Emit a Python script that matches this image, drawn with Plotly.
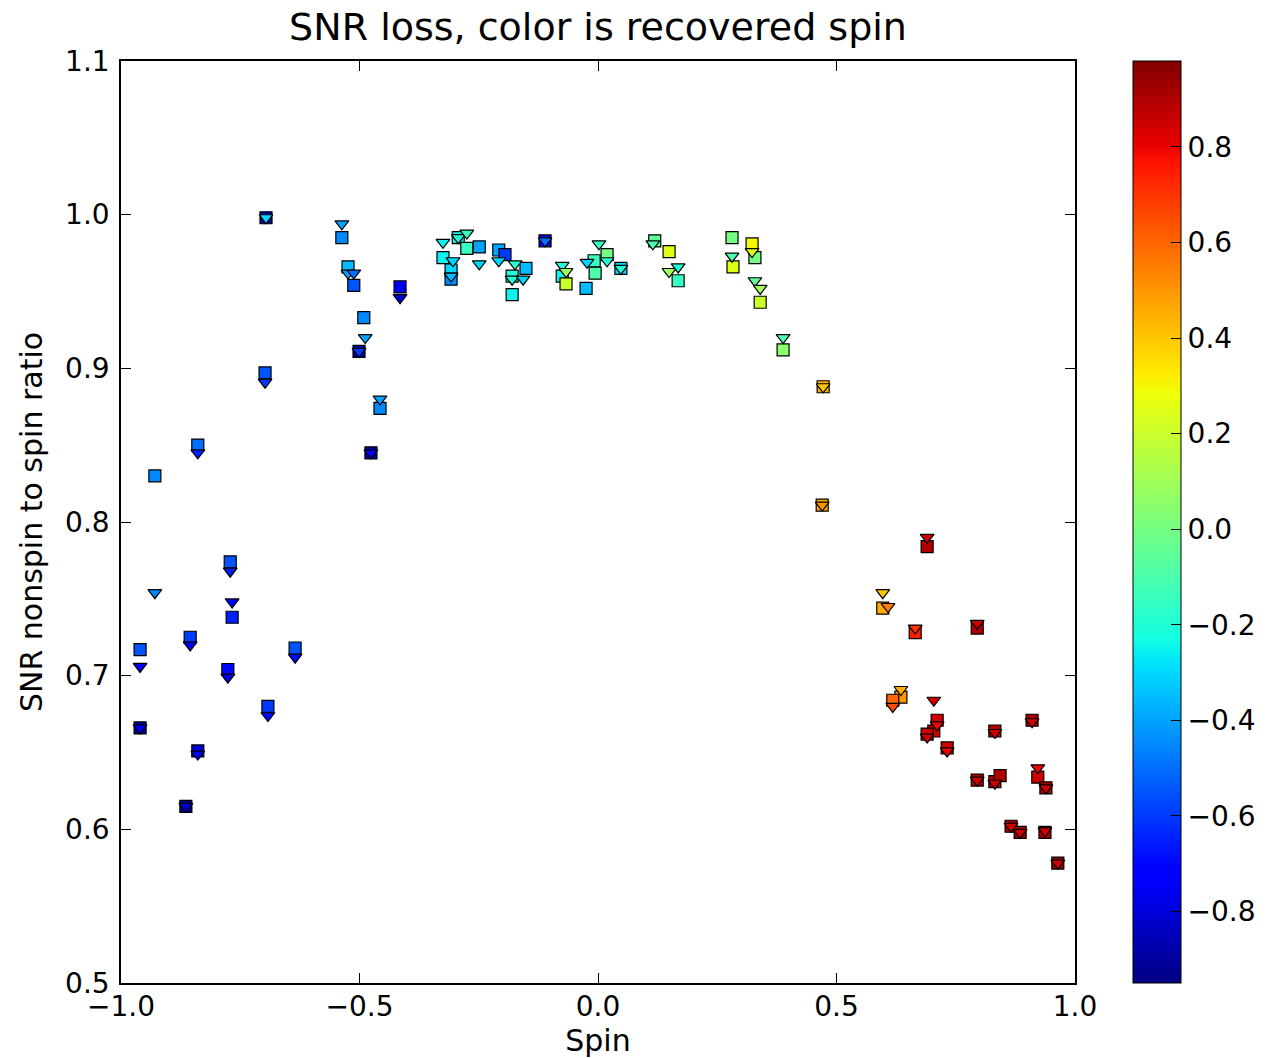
import plotly.graph_objects as go

# ---- data ----
sq_spin = [-0.960, -0.960, -0.929, -0.864, -0.855, -0.839, -0.839, -0.771, -0.767, -0.776,
           -0.696, -0.698, -0.692, -0.635, -0.537, -0.524, -0.512, -0.491, -0.501, -0.476,
           -0.457, -0.415, -0.325, -0.308, -0.308, -0.293, -0.275, -0.249, -0.111, -0.208,
           -0.195, -0.151, -0.180, -0.180, -0.075, -0.067, -0.025, -0.006, 0.019, -0.008,
           0.048, 0.119, 0.149, 0.168, 0.281, 0.283, 0.323, 0.329, 0.340, 0.388,
           0.472, 0.470, 0.690, 0.597, 0.665, 0.795, 0.635, 0.618, 0.711, 0.704,
           0.690, 0.732, 0.832, 0.910, 0.795, 0.832, 0.843, 0.922, 0.939, 0.866,
           0.885, 0.937, 0.964]
sq_snr = [0.717, 0.666, 0.830, 0.615, 0.725, 0.850, 0.651, 0.774, 0.738, 0.704,
          0.998, 0.897, 0.680, 0.718, 0.985, 0.966, 0.954, 0.933, 0.911, 0.845,
          0.874, 0.953, 0.972, 0.964, 0.958, 0.985, 0.978, 0.979, 0.983, 0.977,
          0.974, 0.965, 0.948, 0.960, 0.960, 0.955, 0.952, 0.962, 0.974, 0.970,
          0.965, 0.983, 0.976, 0.957, 0.985, 0.966, 0.981, 0.972, 0.943, 0.912,
          0.888, 0.811, 0.784, 0.744, 0.728, 0.731, 0.686, 0.684, 0.671, 0.664,
          0.662, 0.653, 0.664, 0.671, 0.632, 0.631, 0.635, 0.634, 0.627, 0.602,
          0.598, 0.598, 0.578]
sq_rec = [-0.55, -0.90, -0.45, -0.92, -0.60, -0.50, -0.80, -0.55, -0.65, -0.70,
          -0.90, -0.55, -0.60, -0.55, -0.45, -0.35, -0.55, -0.45, -0.85, -0.90,
          -0.45, -0.75, -0.25, -0.30, -0.45, -0.25, -0.15, -0.40, -0.75, -0.40,
          -0.60, -0.35, -0.25, -0.20, -0.25, 0.20, -0.35, -0.10, 0.00, -0.15,
          -0.30, -0.05, 0.25, -0.15, 0.00, 0.25, 0.30, 0.00, 0.20, 0.05,
          0.45, 0.45, 0.90, 0.45, 0.75, 0.90, 0.50, 0.60, 0.85, 0.85,
          0.85, 0.85, 0.90, 0.92, 0.90, 0.90, 0.90, 0.85, 0.92, 0.92,
          0.92, 0.92, 0.95]

tri_spin = [-0.960, -0.960, -0.929, -0.864, -0.855, -0.839, -0.839, -0.771, -0.767, -0.776,
            -0.696, -0.698, -0.692, -0.635, -0.537, -0.524, -0.512, -0.488, -0.501, -0.476,
            -0.457, -0.415, -0.325, -0.304, -0.308, -0.293, -0.275, -0.249, -0.111, -0.208,
            -0.174, -0.180, -0.157, -0.075, -0.067, 0.002, -0.023, 0.019, 0.048, 0.115,
            0.149, 0.168, 0.281, 0.323, 0.329, 0.340, 0.388, 0.472, 0.470, 0.690,
            0.597, 0.608, 0.665, 0.795, 0.635, 0.618, 0.704, 0.690, 0.732, 0.832,
            0.910, 0.795, 0.832, 0.922, 0.939, 0.866, 0.885, 0.937, 0.964, 0.711]
tri_snr = [0.706, 0.666, 0.754, 0.615, 0.720, 0.845, 0.649, 0.768, 0.748, 0.699,
           0.998, 0.891, 0.674, 0.712, 0.994, 0.962, 0.962, 0.920, 0.911, 0.845,
           0.880, 0.946, 0.982, 0.970, 0.960, 0.985, 0.988, 0.968, 0.983, 0.970,
           0.968, 0.958, 0.958, 0.967, 0.963, 0.981, 0.969, 0.970, 0.965, 0.981,
           0.963, 0.966, 0.973, 0.976, 0.957, 0.952, 0.920, 0.888, 0.811, 0.790,
           0.754, 0.745, 0.731, 0.734, 0.691, 0.680, 0.684, 0.660, 0.651, 0.663,
           0.670, 0.632, 0.630, 0.640, 0.627, 0.602, 0.598, 0.599, 0.578, 0.668]
tri_rec = [-0.75, -0.75, -0.45, -0.80, -0.75, -0.65, -0.75, -0.65, -0.75, -0.80,
           -0.30, -0.60, -0.70, -0.70, -0.40, -0.40, -0.50, -0.40, -0.60, -0.75,
           -0.40, -0.80, -0.25, -0.30, -0.35, -0.20, -0.15, -0.30, -0.50, -0.30,
           -0.20, -0.20, -0.30, -0.20, 0.10, -0.15, -0.30, -0.20, -0.20, -0.10,
           0.10, -0.20, -0.10, 0.25, -0.05, 0.10, -0.10, 0.40, 0.50, 0.85,
           0.40, 0.55, 0.70, 0.85, 0.45, 0.65, 0.85, 0.85, 0.80, 0.85,
           0.85, 0.85, 0.85, 0.80, 0.85, 0.85, 0.85, 0.85, 0.85, 0.80]

x_ticks = [-1.0, -0.5, 0.0, 0.5, 1.0]
y_ticks = [0.5, 0.6, 0.7, 0.8, 0.9, 1.0, 1.1]
cbar_ticks = [-0.8, -0.6, -0.4, -0.2, 0.0, 0.2, 0.4, 0.6, 0.8]

# matplotlib "jet" colormap
jet = [[0.0, "rgb(0,0,128)"], [0.11, "rgb(0,0,255)"], [0.125, "rgb(0,0,255)"],
       [0.34, "rgb(0,219,255)"], [0.35, "rgb(0,230,247)"], [0.375, "rgb(21,255,226)"],
       [0.64, "rgb(239,255,8)"], [0.65, "rgb(247,245,0)"], [0.66, "rgb(255,236,0)"],
       [0.89, "rgb(255,19,0)"], [0.91, "rgb(232,0,0)"], [1.0, "rgb(128,0,0)"]]

FONT = "DejaVu Sans"
W, H = 1267, 1058
L, R, T, B = 121, 192, 61, 75

fig = go.Figure()
fig.add_trace(go.Scatter(
    x=sq_spin, y=sq_snr, mode="markers", name="square",
    marker=dict(symbol="square", size=12, color=sq_rec, coloraxis="coloraxis",
                line=dict(color="black", width=1.2)),
    showlegend=False))
fig.add_trace(go.Scatter(
    x=tri_spin, y=tri_snr, mode="markers", name="triangle",
    marker=dict(symbol="triangle-down", size=12, color=tri_rec, coloraxis="coloraxis",
                line=dict(color="black", width=1.2)),
    showlegend=False))

axis_common = dict(showgrid=False, zeroline=False, showline=True, linecolor="black",
                   linewidth=1.5, mirror="allticks", ticks="inside", ticklen=10,
                   tickwidth=1, tickcolor="black", tickformat=".1f", automargin=False,
                   tickfont=dict(family=FONT, size=28, color="black"))

fig.update_layout(
    width=W, height=H,
    margin=dict(l=L, r=R, t=T, b=B, pad=0),
    paper_bgcolor="white", plot_bgcolor="white",
    font=dict(family=FONT, color="black"),
    title=dict(text="SNR loss, color is recovered spin", x=0.5, xref="paper",
               y=1 - 27 / H, yref="container", yanchor="middle", xanchor="center",
               font=dict(family=FONT, size=38, color="black")),
    xaxis=dict(range=[-1.0, 1.0], tickvals=x_ticks, ticklabelstandoff=-2,
               title=dict(text="Spin", font=dict(family=FONT, size=30), standoff=2),
               **axis_common),
    yaxis=dict(range=[0.5, 1.1], tickvals=y_ticks, ticklabelstandoff=4,
               title=dict(text="SNR nonspin to spin ratio", font=dict(family=FONT, size=30),
                          standoff=14),
               **axis_common),
    coloraxis=dict(
        colorscale=jet, cmin=-0.95, cmax=0.98,
        colorbar=dict(
            xref="container", x=1133 / W, xanchor="left", xpad=0,
            yref="paper", y=0.5, yanchor="middle", ypad=0,
            len=H - T - B, lenmode="pixels",
            thickness=48, thicknessmode="pixels",
            outlinewidth=1, outlinecolor="black",
            tickvals=cbar_ticks, tickformat=".1f",
            ticks="inside", ticklen=10, tickcolor="black", tickwidth=1,
            tickfont=dict(family=FONT, size=28, color="black"),
        ),
    ),
)

fig.write_html("out.html")
